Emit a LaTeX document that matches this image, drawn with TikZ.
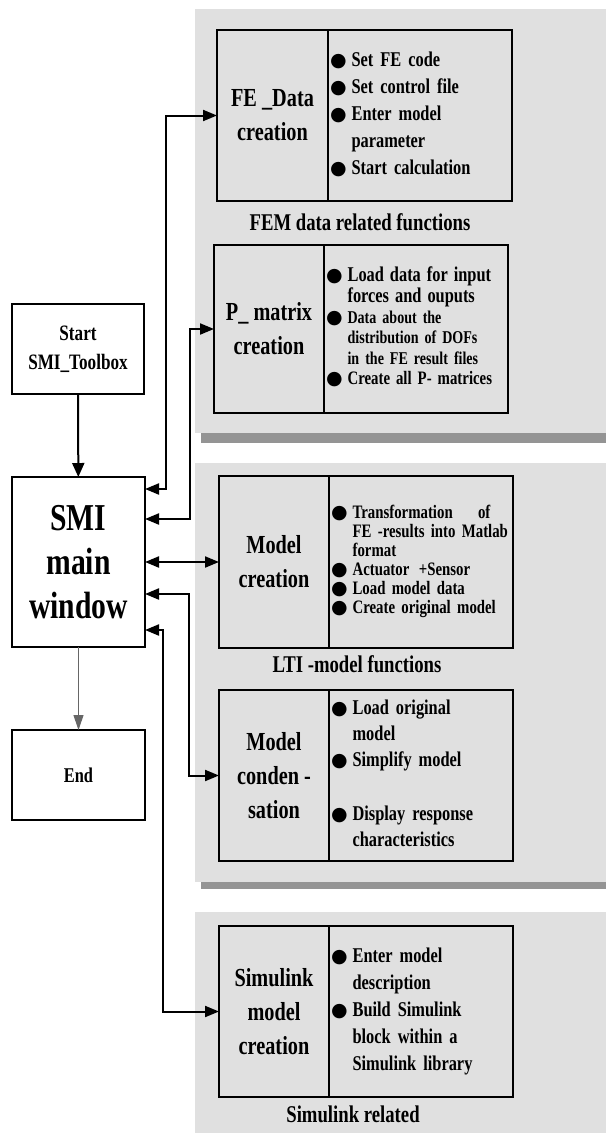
\documentclass[tikz,border=0pt]{standalone}
\usepackage{fontspec}
\setmainfont{Liberation Serif}[FakeStretch=0.78]
\newfontfamily\symfont{DejaVu Sans}
\usetikzlibrary{arrows.meta}
\newcommand{\bul}{{\symfont\fontsize{19}{19}\selectfont ●}}
\newcommand{\fs}[2]{\fontsize{#1}{#2}\selectfont}
\begin{document}
\begin{tikzpicture}[x=1pt,y=-1pt,line width=2pt,
  panel/.style={fill=black!12,draw=none},
  dropshadow/.style={fill=black!42,draw=none},
  cell/.style={draw,rectangle,inner sep=0pt,outer sep=0pt,align=center,font=\bfseries\fs{26}{34}},
  itemlist/.style={draw,rectangle,anchor=west,inner xsep=2pt,inner ysep=0pt,outer sep=0pt,text width=180pt,align=left,font=\bfseries\fs{21}{27}},
  caption/.style={font=\bfseries\fs{24}{24}},
  both/.style={{Triangle[length=14pt,width=11pt]}-{Triangle[length=14pt,width=11pt]}}]
\useasboundingbox (0,0) rectangle (606,1133);
% grey panels
\fill[dropshadow] (201,20) rectangle (606,443);
\fill[panel] (195,9) rectangle (606,433);
\fill[dropshadow] (201,470) rectangle (606,889);
\fill[panel] (195,463) rectangle (606,882);
\fill[panel] (195,912) rectangle (606,1133);
% left column
\node[cell,minimum width=132pt,minimum height=90pt,font=\bfseries\fs{22}{29}] (start) at (78,349) {Start\\SMI\_Toolbox};
\node[cell,minimum width=133pt,minimum height=170pt,font=\bfseries\fs{38}{44}] (main) at (78.5,562) {SMI\\main\\window};
\node[cell,minimum width=133pt,minimum height=90pt,font=\bfseries\fs{21}{26}] (end) at (78.5,775) {End};
% FEM data
\node[cell,minimum width=111pt,minimum height=171pt] (fedata) at (272.5,115.5) {FE \_Data\\creation};
\node[itemlist,minimum height=171pt] (fedatal) at (fedata.east) {%
\begin{tabular}{@{}l@{\hspace{5pt}}l@{}}
\bul & Set FE code\\
\bul & Set control file\\
\bul & Enter model\\
 & parameter\\
\bul & Start calculation
\end{tabular}};
\node[caption] (femcap) at (360,222) {FEM data related functions};
\node[cell,minimum width=110pt,minimum height=168pt] (pmat) at (269,329) {P\_ matrix\\creation};
\node[itemlist,minimum height=168pt,font=\bfseries\fs{18}{20.6}] (pmatl) at (pmat.east) {%
\begin{tabular}{@{}l@{\hspace{5pt}}l@{}}
\bul & \fs{21}{20.6}Load data for input\\
 & \fs{21}{20.6}forces and ouputs\\
\bul & Data about the\\
 & distribution of DOFs\\
 & in the FE result files\\
\bul & \fs{19}{20.6}Create all P- matrices
\end{tabular}};
% LTI model
\node[cell,minimum width=110pt,minimum height=172pt] (model) at (274,562) {Model\\creation};
\node[itemlist,minimum height=172pt,font=\bfseries\fs{19}{19}] (modell) at (model.east) {%
\begin{tabular}{@{}l@{\hspace{5pt}}l@{}}
\bul & Transformation \quad of\\
 & FE -results into Matlab\\
 & format\\
\bul & Actuator \,+Sensor\\
\bul & Load model data\\
\bul & Create original model
\end{tabular}};
\node[caption] (lticap) at (357,664) {LTI -model functions};
\node[cell,minimum width=110pt,minimum height=171pt] (cond) at (274,775.5) {Model\\conden -\\sation};
\node[itemlist,minimum height=171pt,font=\bfseries\fs{21}{26}] (condl) at (cond.east) {%
\begin{tabular}{@{}l@{\hspace{5pt}}l@{}}
\bul & Load original\\
 & model\\
\bul & Simplify model\\[28pt]
\bul & Display response\\
 & characteristics
\end{tabular}};
% Simulink
\node[cell,minimum width=110pt,minimum height=171pt] (sim) at (274,1011.5) {Simulink\\model\\creation};
\node[itemlist,minimum height=171pt] (siml) at (sim.east) {%
\begin{tabular}{@{}l@{\hspace{5pt}}l@{}}
\bul & Enter model\\
 & description\\
\bul & Build Simulink\\
 & block within a\\
 & Simulink library
\end{tabular}};
\node[caption] (simcap) at (353,1114) {Simulink related};
% connectors
\draw[-{Triangle[length=14pt,width=12pt]}] (start) -- (main);
\draw[line width=1pt,black!60,-{Triangle[length=15pt,width=10pt]}] (main) -- (end);
\draw[both] ([yshift=73pt]main.east) -- ++(21,0) |- (fedata.west);
\draw[both] ([yshift=43pt]main.east) -- ++(45,0) |- (pmat.west);
\draw[both] (main.east) -- (model.west);
\draw[both] ([yshift=-32pt]main.east) -- ++(44,0) |- (cond.west);
\draw[both] ([yshift=-68pt]main.east) -- ++(18,0) |- (sim.west);
\end{tikzpicture}
\end{document}
